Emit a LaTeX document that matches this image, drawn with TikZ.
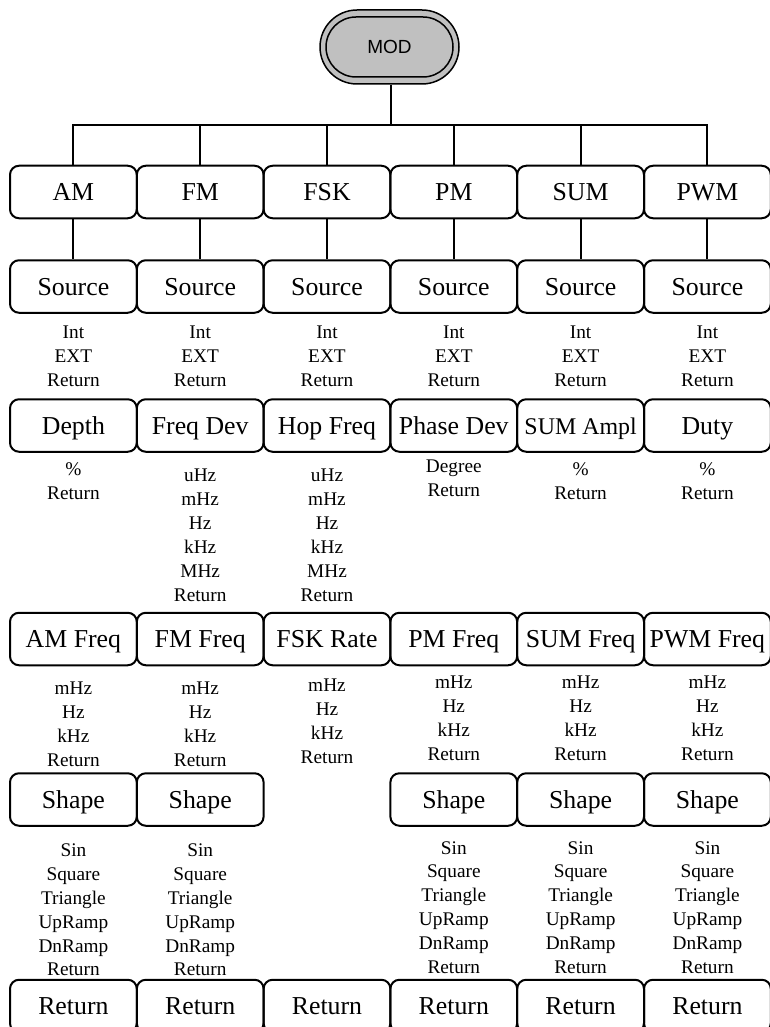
\documentclass[tikz,border=0pt]{standalone}
\usepackage{fontspec}
\setmainfont{Liberation Serif}
\newfontfamily\modfont{Liberation Sans}
\definecolor{modgray}{RGB}{192,192,192}
\begin{document}
\begin{tikzpicture}[x=1pt,y=-1pt,
  menubox/.style={draw, line width=2pt, rounded corners=9pt, minimum width=126.8pt, minimum height=52.5pt, inner sep=0pt, text height=17pt, text depth=0pt, font=\fontsize{25.8}{30}\selectfont},
  opts/.style={anchor=north, inner sep=0pt, align=center, yshift=-4.5pt, font=\fontsize{19.3}{23.9}\selectfont, execute at begin node=\strut},
  conn/.style={line width=2pt},
  pill/.style={draw, line width=1.5pt, fill=modgray, inner sep=0pt}
]
\useasboundingbox (0,0) rectangle (770,1027);
\clip (0,0) rectangle (770,1027);

% MOD button
\node[pill, minimum width=139pt, minimum height=74pt, rounded corners=37pt] (modo) at (389.5,47) {};
\node[pill, minimum width=127pt, minimum height=60pt, rounded corners=30pt, font=\modfont\fontsize{19}{22}\selectfont, text height=13.6pt, text depth=0pt] (mod) at (389.5,47) {MOD};
\coordinate (bus) at (391,125);

% row 1
\node[menubox] (am)  at (73.4,192)  {AM};
\node[menubox] (fm)  at (200.2,192) {FM};
\node[menubox] (fsk) at (327,192)   {FSK};
\node[menubox] (pm)  at (453.8,192) {PM};
\node[menubox] (sum) at (580.6,192) {SUM};
\node[menubox] (pwm) at (707.4,192) {PWM};

% connectors top
\draw[conn] (modo.south -| bus) -- (bus);
\draw[conn] (am.north) -- (am.north |- bus) -- (pwm.north |- bus) -- (pwm.north);
\foreach \n in {fm,fsk,pm,sum}{\draw[conn] (\n.north) -- (\n.north |- bus);}

% source row
\node[menubox] (amsrc)  at (73.4,286.5)  {Source};
\node[menubox] (fmsrc)  at (200.2,286.5) {Source};
\node[menubox] (fsksrc) at (327,286.5)   {Source};
\node[menubox] (pmsrc)  at (453.8,286.5) {Source};
\node[menubox] (sumsrc) at (580.6,286.5) {Source};
\node[menubox] (pwmsrc) at (707.4,286.5) {Source};
\foreach \n in {am,fm,fsk,pm,sum,pwm}{\draw[conn] (\n.south) -- (\n src.north);}

% source options
\node[opts] (amsrcl)  at (73.4,321.3)  {Int\\EXT\\Return};
\node[opts] (fmsrcl)  at (200.2,321.3) {Int\\EXT\\Return};
\node[opts] (fsksrcl) at (327,321.3)   {Int\\EXT\\Return};
\node[opts] (pmsrcl)  at (453.8,321.3) {Int\\EXT\\Return};
\node[opts] (sumsrcl) at (580.6,321.3) {Int\\EXT\\Return};
\node[opts] (pwmsrcl) at (707.4,321.3) {Int\\EXT\\Return};

% third row
\node[menubox] (amdep)  at (73.4,425.5)  {Depth};
\node[menubox] (fmdev)  at (200.2,425.5) {Freq Dev};
\node[menubox] (fskhop) at (327,425.5)   {Hop Freq};
\node[menubox] (pmdev)  at (453.8,425.5) {Phase Dev};
\node[menubox, font=\fontsize{23.9}{28}\selectfont] (sumampl) at (580.6,425.5) {SUM Ampl};
\node[menubox] (pwmduty) at (707.4,425.5) {Duty};

\node[opts] (amdepl)  at (73.4,458.3)  {\%\\Return};
\node[opts] (fmdevl)  at (200.2,464.3) {uHz\\mHz\\Hz\\kHz\\MHz\\Return};
\node[opts] (fskhopl) at (327,464.3)   {uHz\\mHz\\Hz\\kHz\\MHz\\Return};
\node[opts] (pmdevl)  at (453.8,455.3) {Degree\\Return};
\node[opts] (sumampll) at (580.6,458.3) {\%\\Return};
\node[opts] (pwmdutyl) at (707.4,458.3) {\%\\Return};

% fourth row
\node[menubox] (amfreq)  at (73.4,639)  {AM Freq};
\node[menubox] (fmfreq)  at (200.2,639) {FM Freq};
\node[menubox] (fskrate) at (327,639)   {FSK Rate};
\node[menubox] (pmfreq)  at (453.8,639) {PM Freq};
\node[menubox] (sumfreq) at (580.6,639) {SUM Freq};
\node[menubox] (pwmfreq) at (707.4,639) {PWM Freq};

\node[opts] (amfreql)  at (73.4,677.3)  {mHz\\Hz\\kHz\\Return};
\node[opts] (fmfreql)  at (200.2,677.3) {mHz\\Hz\\kHz\\Return};
\node[opts] (fskratel) at (327,674.3)   {mHz\\Hz\\kHz\\Return};
\node[opts] (pmfreql)  at (453.8,671.3) {mHz\\Hz\\kHz\\Return};
\node[opts] (sumfreql) at (580.6,671.3) {mHz\\Hz\\kHz\\Return};
\node[opts] (pwmfreql) at (707.4,671.3) {mHz\\Hz\\kHz\\Return};

% shape row
\node[menubox] (amshape)  at (73.4,799.5)  {Shape};
\node[menubox] (fmshape)  at (200.2,799.5) {Shape};
\node[menubox] (pmshape)  at (453.8,799.5) {Shape};
\node[menubox] (sumshape) at (580.6,799.5) {Shape};
\node[menubox] (pwmshape) at (707.4,799.5) {Shape};

\node[opts] (amshapel)  at (73.4,839)    {Sin\\Square\\Triangle\\UpRamp\\DnRamp\\Return};
\node[opts] (fmshapel)  at (200.2,839)   {Sin\\Square\\Triangle\\UpRamp\\DnRamp\\Return};
\node[opts] (pmshapel)  at (453.8,836.6) {Sin\\Square\\Triangle\\UpRamp\\DnRamp\\Return};
\node[opts] (sumshapel) at (580.6,836.6) {Sin\\Square\\Triangle\\UpRamp\\DnRamp\\Return};
\node[opts] (pwmshapel) at (707.4,836.6) {Sin\\Square\\Triangle\\UpRamp\\DnRamp\\Return};

% return row
\node[menubox] (amret)  at (73.4,1006)  {Return};
\node[menubox] (fmret)  at (200.2,1006) {Return};
\node[menubox] (fskret) at (327,1006)   {Return};
\node[menubox] (pmret)  at (453.8,1006) {Return};
\node[menubox] (sumret) at (580.6,1006) {Return};
\node[menubox] (pwmret) at (707.4,1006) {Return};
\end{tikzpicture}
\end{document}
